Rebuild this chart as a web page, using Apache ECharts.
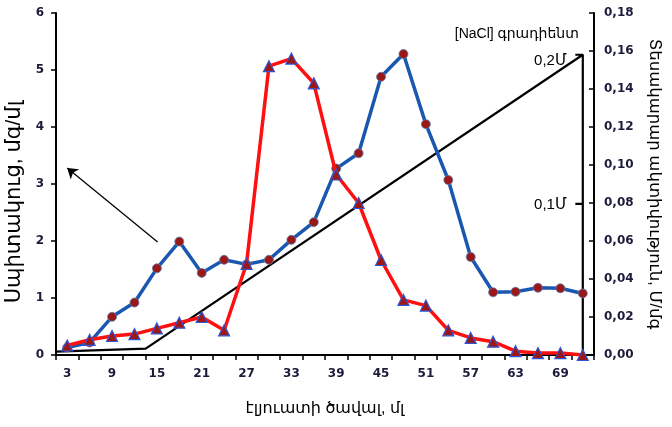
<!DOCTYPE html>
<html><head><meta charset="utf-8">
<script src="https://cdn.jsdelivr.net/npm/echarts@6/dist/echarts.min.js"></script>
<style>html,body{margin:0;padding:0;background:#fff}#c{width:672px;height:427px}</style>
</head><body><div id="c"></div>
<script>
// Data
const volumes = ['3','6','9','12','15','18','21','24','27','30','33','36','39','42','45','48','51','54','57','60','63','66','69','72'];
const protein = [0.13,0.22,0.67,0.92,1.52,1.99,1.44,1.67,1.59,1.67,2.02,2.33,3.27,3.54,4.88,5.28,4.05,3.07,1.72,1.10,1.11,1.18,1.17,1.08];
const activity = [0.005,0.008,0.010,0.011,0.014,0.017,0.020,0.013,0.048,0.152,0.156,0.143,0.095,0.080,0.050,0.029,0.026,0.013,0.009,0.007,0.002,0.001,0.001,0.000];
const gradientVol = [1.5,13.5,72,71,72,72,71,72,72];
const gradientNaCl = [0.001,0.003,0.2,0.2,0.2,0.1,0.1,0.1,0];

const FONT = 'Arial, "Liberation Sans", "DejaVu Sans", sans-serif';
const TICKFONT = '"DejaVu Sans", Verdana, sans-serif';
const labelColor = '#1b1b3a';

const chart = echarts.init(document.getElementById('c'));
chart.setOption({
  backgroundColor: '#fff',
  animation: false,
  grid: {left: 56, right: 78, top: 13, bottom: 72, outerBoundsMode: 'none', containLabel: false},
  xAxis: [{
    type: 'category', data: volumes, boundaryGap: true,
    axisLine: {lineStyle: {color: '#000', width: 2}},
    axisTick: {show: true, interval: 0, length: 5, lineStyle: {color: '#000', width: 1.5}},
    axisLabel: {interval: 1, margin: 13, color: labelColor, fontFamily: TICKFONT, fontWeight: 'bold', fontSize: 12},
    name: 'էլյուատի ծավալ, մլ', nameLocation: 'middle', nameGap: 46,
    nameTextStyle: {fontFamily: FONT, fontSize: 16, color: '#000'}
  }, {
    type: 'value', min: 1.5, max: 73.5, show: false
  }],
  yAxis: [{
    type: 'value', min: 0, max: 6, interval: 1, position: 'left',
    splitLine: {show: false},
    axisLine: {show: true, lineStyle: {color: '#000', width: 2}},
    axisTick: {show: true, length: 5, lineStyle: {color: '#000', width: 1.5}},
    axisLabel: {margin: 12, color: labelColor, fontFamily: TICKFONT, fontWeight: 'bold', fontSize: 12},
    name: 'Սպիտակուց, մգ/մլ', nameLocation: 'middle', nameGap: 25,
    nameTextStyle: {fontFamily: FONT, fontSize: 21, color: '#000', padding: [0, 36, 0, 0]}
  }, {
    type: 'value', min: 0, max: 0.18, interval: 0.02, position: 'right',
    splitLine: {show: false},
    axisLine: {show: true, lineStyle: {color: '#000', width: 2}},
    axisTick: {show: true, inside: true, length: 5, lineStyle: {color: '#000', width: 1.5}},
    axisLabel: {margin: 10, color: labelColor, fontFamily: TICKFONT, fontWeight: 'bold', fontSize: 12,
      formatter: v => v.toFixed(2).replace('.', ',')},
    name: 'Տեսակարար ակտիվություն, Մ/մգ', nameLocation: 'middle', nameGap: 52, nameRotate: -90,
    nameTextStyle: {fontFamily: FONT, fontSize: 16.5, color: '#000'}
  }, {
    type: 'value', min: -0.0013, max: 0.228, show: false
  }],
  series: [{
    name: 'gradient', type: 'line', xAxisIndex: 1, yAxisIndex: 2,
    data: gradientVol.map((v, i) => [v, gradientNaCl[i]]),
    symbol: 'none', z: 1,
    lineStyle: {color: '#000', width: 2.2},
    markLine: {
      silent: true, symbol: ['none', 'arrow'], symbolSize: 10,
      lineStyle: {color: '#000', width: 1.3, type: 'solid'}, label: {show: false},
      data: [[{coord: [15.1, 0.0745], symbol: 'none'}, {coord: [3.0, 0.124], symbol: 'arrow', symbolSize: 10}]]
    },
    markPoint: {
      silent: true, symbol: 'circle', symbolSize: 0,
      data: [
        {coord: [72, 0.214], label: {show: true, position: 'left', distance: 4, formatter: '[NaCl] գրադիենտ', fontFamily: FONT, fontSize: 14, color: '#000'}},
        {coord: [72, 0.2], label: {show: true, position: 'left', distance: 16, offset: [0, 6], formatter: '0,2Մ', fontFamily: FONT, fontSize: 15, color: '#000'}},
        {coord: [72, 0.1], label: {show: true, position: 'left', distance: 16, offset: [0, 1], formatter: '0,1Մ', fontFamily: FONT, fontSize: 15, color: '#000'}}
      ]
    }
  }, {
    name: 'protein', type: 'line', xAxisIndex: 0, yAxisIndex: 0,
    data: protein, z: 3,
    symbol: 'circle', symbolSize: 9,
    itemStyle: {color: '#9b1818', borderColor: '#5a7fb0', borderWidth: 0.8},
    lineStyle: {color: '#1a58b0', width: 3.5}
  }, {
    name: 'activity', type: 'line', xAxisIndex: 0, yAxisIndex: 1,
    data: activity, z: 4,
    symbol: 'triangle', symbolSize: 11,
    itemStyle: {color: '#9b1818', borderColor: '#2f55d4', borderWidth: 1.2},
    lineStyle: {color: '#ff1010', width: 3.5}
  }]
});
</script></body></html>
